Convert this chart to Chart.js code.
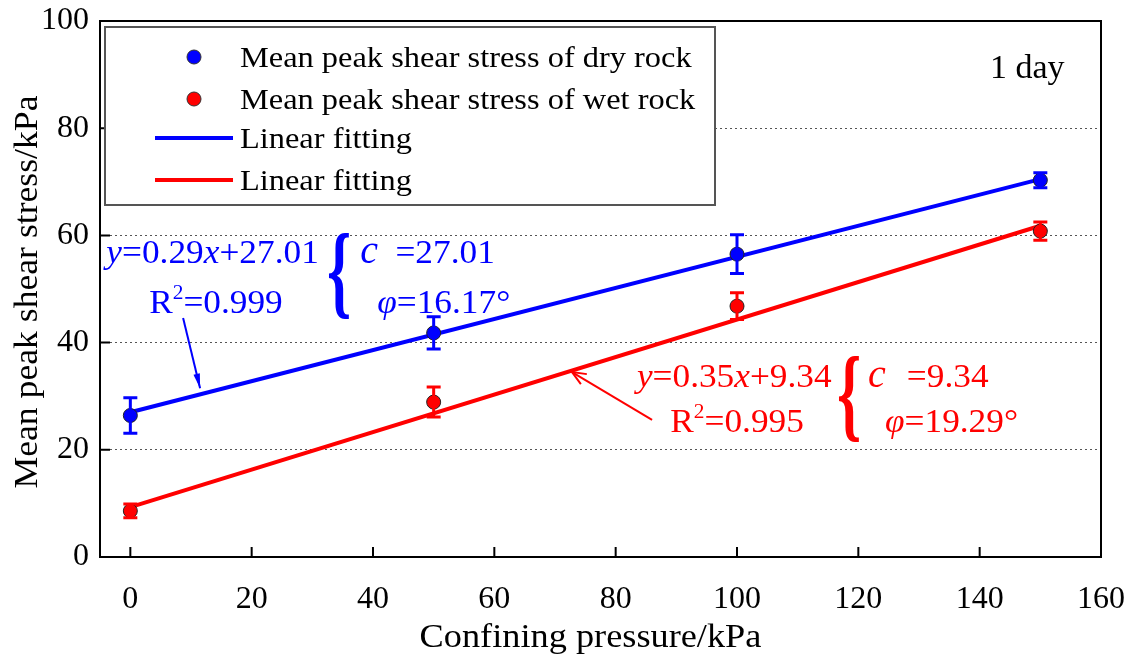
<!DOCTYPE html>
<html>
<head>
<meta charset="utf-8">
<script src="https://cdn.jsdelivr.net/npm/chart.js@4.4.1/dist/chart.umd.min.js"></script>
<style>
  html, body { margin: 0; background: #fff; }
  #wrap { width: 1132px; height: 664px; }
</style>
</head>
<body>
<div id="wrap"><canvas id="shear" width="1132" height="664"></canvas></div>
<script>
// values (kPa)
const pressure = [0, 50, 100, 150];
const dryMean = [26.4, 41.8, 56.5, 70.3];
const dryErr = [3.3, 3.0, 3.6, 1.4];
const wetMean = [8.6, 28.9, 46.8, 60.8];
const wetErr = [1.3, 2.8, 2.5, 1.7];
const fitX = [0, 150];
const dryFit = [27.0, 70.5];
const wetFit = [9.3, 61.8];
const xTicks = [0, 20, 40, 60, 80, 100, 120, 140, 160];
const yTicks = [0, 20, 40, 60, 80, 100];
const legendLabels = ['Mean peak shear stress of dry rock', 'Mean peak shear stress of wet rock', 'Linear fitting', 'Linear fitting'];

const SERIF = '"Liberation Serif", "Times New Roman", serif';
const BLUE = '#0000ff';
const RED = '#ff0000';

function font(size, italic, bold) {
  return (italic ? 'italic ' : '') + (bold ? 'bold ' : '') + size + 'px ' + SERIF;
}

// draw a run of text pieces, slightly stretched sideways like the source figure
function drawRuns(ctx, x, y, parts, sx, color) {
  ctx.save();
  ctx.translate(x, y);
  ctx.scale(sx, 1);
  ctx.fillStyle = color;
  ctx.textAlign = 'left';
  ctx.textBaseline = 'alphabetic';
  let cx = 0;
  parts.forEach(p => {
    ctx.font = font(p.size, p.italic);
    ctx.fillText(p.t, cx, p.dy || 0);
    cx += ctx.measureText(p.t).width;
  });
  ctx.restore();
}

function brace(ctx, x, y, color) {
  ctx.save();
  ctx.translate(x, y);
  ctx.scale(1.1, 1.85);
  ctx.fillStyle = color;
  ctx.font = font(56, false, true);
  ctx.textAlign = 'center';
  ctx.textBaseline = 'middle';
  ctx.fillText('{', 0, 0);
  ctx.restore();
}

function arrow(ctx, x1, y1, x2, y2, color, filled) {
  const ang = Math.atan2(y2 - y1, x2 - x1);
  const len = 15, spread = filled ? 0.22 : 0.4;
  ctx.save();
  ctx.strokeStyle = color;
  ctx.fillStyle = color;
  ctx.lineWidth = 2;
  ctx.beginPath();
  ctx.moveTo(x1, y1);
  ctx.lineTo(x2, y2);
  ctx.stroke();
  ctx.beginPath();
  ctx.moveTo(x2 - len * Math.cos(ang - spread), y2 - len * Math.sin(ang - spread));
  ctx.lineTo(x2, y2);
  ctx.lineTo(x2 - len * Math.cos(ang + spread), y2 - len * Math.sin(ang + spread));
  if (filled) { ctx.closePath(); ctx.fill(); } else { ctx.stroke(); }
  ctx.restore();
}

const decor = {
  id: 'decor',
  afterDatasetsDraw(chart) {
    const { ctx, scales: { x, y } } = chart;
    ctx.save();
    ctx.lineWidth = 3;
    [[dryMean, dryErr, BLUE], [wetMean, wetErr, RED]].forEach(([m, e, col]) => {
      ctx.strokeStyle = col;
      pressure.forEach((p, i) => {
        const px = x.getPixelForValue(p);
        const top = y.getPixelForValue(m[i] + e[i]);
        const bot = y.getPixelForValue(m[i] - e[i]);
        ctx.beginPath();
        ctx.moveTo(px, top); ctx.lineTo(px, bot);
        ctx.moveTo(px - 7, top); ctx.lineTo(px + 7, top);
        ctx.moveTo(px - 7, bot); ctx.lineTo(px + 7, bot);
        ctx.stroke();
      });
    });
    ctx.restore();
  },
  afterDraw(chart) {
    const { ctx, chartArea: a, scales: { x, y } } = chart;
    const X = v => x.getPixelForValue(v);
    const Y = v => y.getPixelForValue(v);

    // inward ticks and frame
    ctx.save();
    ctx.strokeStyle = '#000';
    ctx.lineWidth = 2;
    ctx.beginPath();
    x.ticks.forEach(t => { ctx.moveTo(X(t.value), a.bottom); ctx.lineTo(X(t.value), a.bottom - 10); });
    y.ticks.forEach(t => { ctx.moveTo(a.left, Y(t.value)); ctx.lineTo(a.left + 10, Y(t.value)); });
    ctx.stroke();
    ctx.strokeRect(a.left, a.top, a.right - a.left, a.bottom - a.top);
    ctx.restore();

    // legend box
    const lx = a.left + 5, ly = a.top + 6;
    ctx.save();
    ctx.fillStyle = '#fff';
    ctx.fillRect(lx, ly, 610, 178);
    ctx.strokeStyle = '#555';
    ctx.lineWidth = 2;
    ctx.strokeRect(lx, ly, 610, 178);
    const rows = [30, 72, 111, 153];
    const cols = [BLUE, RED, BLUE, RED];
    legendLabels.forEach((lab, i) => {
      const cy = ly + rows[i];
      if (i < 2) {
        ctx.beginPath();
        ctx.arc(lx + 89, cy, 7, 0, Math.PI * 2);
        ctx.fillStyle = cols[i];
        ctx.fill();
        ctx.strokeStyle = '#333';
        ctx.lineWidth = 1;
        ctx.stroke();
      } else {
        ctx.beginPath();
        ctx.moveTo(lx + 50, cy); ctx.lineTo(lx + 128, cy);
        ctx.strokeStyle = cols[i];
        ctx.lineWidth = 4;
        ctx.stroke();
      }
      drawRuns(ctx, lx + 135, cy + 10, [{ t: lab, size: 30 }], 1.08, '#000');
    });
    ctx.restore();

    // axis titles
    ctx.save();
    ctx.fillStyle = '#000';
    ctx.font = font(33, false);
    ctx.textAlign = 'center';
    ctx.textBaseline = 'alphabetic';
    ctx.save();
    ctx.translate((a.left + a.right) / 2 - 10, 647);
    ctx.scale(1.1, 1);
    ctx.fillText('Confining pressure/kPa', 0, 0);
    ctx.restore();
    ctx.save();
    ctx.translate(37, (a.top + a.bottom) / 2 + 3);
    ctx.rotate(-Math.PI / 2);
    ctx.scale(1.08, 1);
    ctx.fillText('Mean peak shear stress/kPa', 0, 0);
    ctx.restore();
    ctx.restore();

    // "1 day"
    drawRuns(ctx, X(141.7), Y(89.4), [{ t: '1 day', size: 34 }], 1, '#000');

    // fit annotations, dry rock
    drawRuns(ctx, X(-3.95), Y(54.85), [
      { t: 'y', size: 33, italic: true }, { t: '=0.29', size: 33 },
      { t: 'x', size: 33, italic: true }, { t: '+27.01', size: 33 }
    ], 1.07, BLUE);
    drawRuns(ctx, X(3.1), Y(45.5), [
      { t: 'R', size: 33 }, { t: '2', size: 20, dy: -14 }, { t: '=0.999', size: 33 }
    ], 1.07, BLUE);
    brace(ctx, X(34.4), Y(52.0), BLUE);
    drawRuns(ctx, X(37.9), Y(54.85), [{ t: 'c', size: 40, italic: true }], 1, BLUE);
    drawRuns(ctx, X(43.7), Y(54.85), [{ t: '=27.01', size: 33 }], 1.07, BLUE);
    drawRuns(ctx, X(40.7), Y(45.5), [
      { t: '\u03c6', size: 33, italic: true }, { t: '=16.17\u00b0', size: 33 }
    ], 1.07, BLUE);
    arrow(ctx, X(8.7), Y(44.6), X(11.5), Y(31.5), BLUE, true);

    // fit annotations, wet rock
    drawRuns(ctx, X(83.5), Y(31.7), [
      { t: 'y', size: 33, italic: true }, { t: '=0.35', size: 33 },
      { t: 'x', size: 33, italic: true }, { t: '+9.34', size: 33 }
    ], 1.07, RED);
    drawRuns(ctx, X(89.0), Y(23.3), [
      { t: 'R', size: 33 }, { t: '2', size: 20, dy: -14 }, { t: '=0.995', size: 33 }
    ], 1.07, RED);
    brace(ctx, X(118.5), Y(29.0), RED);
    drawRuns(ctx, X(121.6), Y(31.7), [{ t: 'c', size: 40, italic: true }], 1, RED);
    drawRuns(ctx, X(128.0), Y(31.7), [{ t: '=9.34', size: 33 }], 1.07, RED);
    drawRuns(ctx, X(124.4), Y(23.3), [
      { t: '\u03c6', size: 33, italic: true }, { t: '=19.29\u00b0', size: 33 }
    ], 1.07, RED);
    arrow(ctx, X(86.0), Y(25.6), X(72.8), Y(34.5), RED, false);
  }
};

const pts = (xs, ys) => xs.map((v, i) => ({ x: v, y: ys[i] }));

new Chart(document.getElementById('shear'), {
  type: 'scatter',
  data: {
    datasets: [
      { label: legendLabels[0], data: pts(pressure, dryMean), pointRadius: 7, backgroundColor: BLUE, borderColor: '#222', borderWidth: 1 },
      { label: legendLabels[1], data: pts(pressure, wetMean), pointRadius: 7, backgroundColor: RED, borderColor: '#222', borderWidth: 1 },
      { type: 'line', label: legendLabels[2], data: pts(fitX, dryFit), borderColor: BLUE, borderWidth: 4, pointRadius: 0, fill: false },
      { type: 'line', label: legendLabels[3], data: pts(fitX, wetFit), borderColor: RED, borderWidth: 4, pointRadius: 0, fill: false }
    ]
  },
  options: {
    responsive: false,
    animation: false,
    layout: { padding: { top: 21, right: 31, left: 0, bottom: 0 } },
    plugins: { legend: { display: false }, tooltip: { enabled: false } },
    scales: {
      x: {
        type: 'linear',
        min: -5, max: 160,
        afterBuildTicks: s => { s.ticks = xTicks.map(v => ({ value: v })); },
        afterFit: s => { s.height = 107; s.paddingLeft = 0; s.paddingRight = 0; },
        grid: { display: false, drawTicks: false },
        border: { display: false },
        ticks: { color: '#000', padding: 23, font: { family: SERIF, size: 32 } }
      },
      y: {
        min: 0, max: 100,
        afterBuildTicks: s => { s.ticks = yTicks.map(v => ({ value: v })); },
        afterFit: s => { s.width = 100; s.paddingTop = 0; s.paddingBottom = 0; },
        grid: {
          drawTicks: false,
          color: c => (c.tick && (c.tick.value === 0 || c.tick.value === 100)) ? 'rgba(0,0,0,0)' : '#555',
          lineWidth: 1
        },
        border: { display: false, dash: [2, 3] },
        ticks: { color: '#000', padding: 11, font: { family: SERIF, size: 32 } }
      }
    }
  },
  plugins: [decor]
});
</script>
</body>
</html>
